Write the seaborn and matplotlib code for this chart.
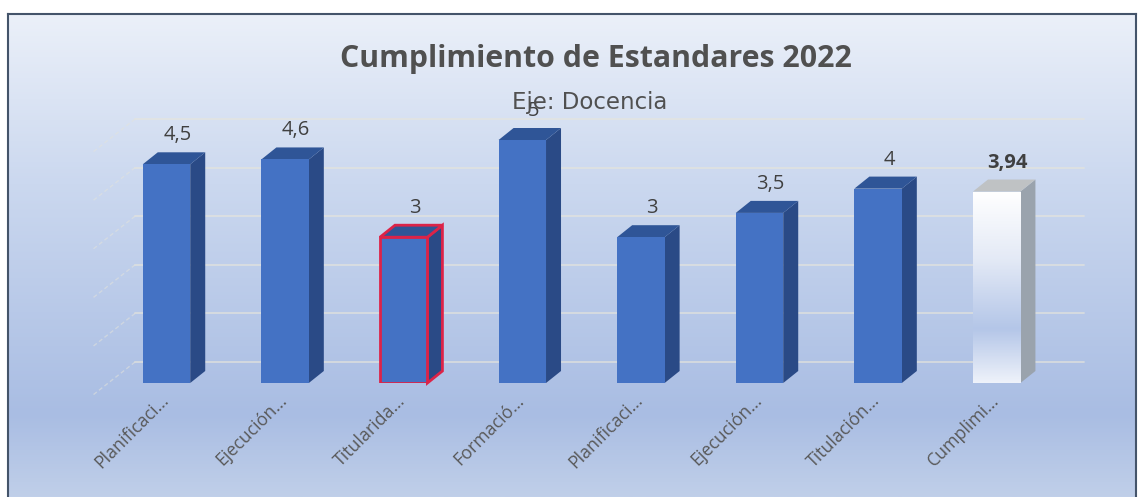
import matplotlib
matplotlib.use("Agg")
import matplotlib.pyplot as plt
from matplotlib.colors import LinearSegmentedColormap
from matplotlib.patches import Polygon
from matplotlib.transforms import ScaledTranslation
import numpy as np
import pandas as pd
import seaborn as sns

categorias = ['Planificaci...', 'Ejecución...', 'Titularida...', 'Formació...',
              'Planificaci... ', 'Ejecución... ', 'Titulación...', 'Cumplimi...']
valores = [4.5, 4.6, 3, 5, 3, 3.5, 4, 3.94]
etiquetas = ['4,5', '4,6', '3', '5', '3', '3,5', '4', '3,94']
niveles = [0, 1, 2, 3, 4, 5]

W, H = 1143, 497
sns.set_theme(style="white")
plt.rcParams['font.family'] = ['Open Sans', 'DejaVu Sans']

fig = plt.figure(figsize=(W / 100, H / 100), dpi=100)
fig.patch.set_facecolor('white')

# fondo con degradado y marco
bg = fig.add_axes([8 / W, 0, (1136 - 8) / W, 1 - 14 / H], zorder=0)
fondo = LinearSegmentedColormap.from_list(
    'fondo', [(0, '#ebf0f9'), (0.35, '#cbd8ef'), (0.83, '#a9bde3'), (1, '#c0cfe9')])
bg.imshow(np.linspace(0, 1, 256).reshape(-1, 1), aspect='auto', cmap=fondo)
bg.set_xticks([])
bg.set_yticks([])
for s in bg.spines.values():
    s.set_color('#44546a')
    s.set_linewidth(1.5)
bg.spines['bottom'].set_visible(False)

# eje principal: 118.6 px por categoria, 48.6 px por unidad
x0 = 107.2
y0 = 383
ax = fig.add_axes([x0 / W, (H - y0) / H, 8 * 118.6 / W, 264 / H], zorder=1)
ax.patch.set_alpha(0)

df = pd.DataFrame({'cat': categorias, 'val': valores})
sns.barplot(data=df, x='cat', y='val', color='#4472c4', saturation=1, width=0.4, ax=ax, zorder=3)
ax.set_xlim(-0.5, 7.5)
ax.set_ylim(0, 264 / 48.6)
ax.set_xlabel('')
ax.set_ylabel('')
ax.set_yticks([])
sns.despine(ax=ax, left=True, bottom=True)

dx = 15 / 118.6
dy = 12 / 48.6

# rejilla de la pared y lineas laterales
fondo_y = 21 / 48.6
for n in niveles:
    ax.plot([-0.265, 7.74], [n + fondo_y, n + fondo_y], color='#e6e5dc', lw=1.3,
            alpha=0.7, zorder=1, clip_on=False)
    ax.plot([-0.265, -0.62], [n + fondo_y, n + fondo_y - 33 / 48.6], color='#e3e3dc', lw=1,
            ls=(0, (3, 2)), alpha=0.55, zorder=1, clip_on=False)

for i, (p, v) in enumerate(zip(ax.patches, valores)):
    xa = p.get_x()
    xb = xa + p.get_width()
    lado = '#2a4a86'
    tapa = '#2f5597'
    borde = 'none'
    if i == 2:
        borde = '#dc2348'
    if i == 7:
        lado = '#9aa3ad'
        tapa = '#bfc2c4'
    lw = 2 if i == 2 else 0
    ax.add_patch(Polygon([(xb, 0), (xb + dx, dy), (xb + dx, v + dy), (xb, v)], closed=True,
                         facecolor=lado, edgecolor=borde, lw=lw, zorder=2.5, clip_on=False))
    ax.add_patch(Polygon([(xa, v), (xa + dx, v + dy), (xb + dx, v + dy), (xb, v)], closed=True,
                         facecolor=tapa, edgecolor=borde, lw=lw, zorder=2.5, clip_on=False))
    p.set_edgecolor(borde)
    p.set_linewidth(lw)
    if i == 7:
        # barra de cumplimiento en degradado blanco
        blanco = LinearSegmentedColormap.from_list(
            'blanco', [(0, '#ffffff'), (0.35, '#e4eaf6'), (0.72, '#b4c6e8'), (1, '#eef2fa')])
        im = ax.imshow(np.linspace(0, 1, 128).reshape(-1, 1), cmap=blanco, aspect='auto',
                       extent=[xa, xb, 0, v], zorder=3.2)
        im.set_clip_path(p)
        ax.set_xlim(-0.5, 7.5)
        ax.set_ylim(0, 264 / 48.6)
    ax.annotate(etiquetas[i], (p.get_x() + p.get_width() / 2, v), xytext=(11, 29),
                textcoords='offset pixels', ha='center', va='center', fontsize=14.5,
                color='#404040', fontweight='bold' if i == 7 else 'normal',
                annotation_clip=False, zorder=6)

ax.set_xticks(range(len(categorias)))
ax.set_xticklabels([c.strip() for c in categorias], rotation=45, ha='right',
                   rotation_mode='anchor', fontsize=12.8, color='#595959')
ax.tick_params(axis='x', length=0, pad=6)
# las etiquetas quedan un poco a la izquierda del centro de la barra
desplazo = ScaledTranslation(-7 / 100, 0, fig.dpi_scale_trans)
for t in ax.get_xticklabels():
    t.set_transform(t.get_transform() + desplazo)

fig.text(596 / W, 1 - 59 / H, 'Cumplimiento de Estandares 2022', ha='center', va='center',
         fontsize=21.8, fontweight='bold', color='#505050', zorder=5)
fig.text(590 / W, 1 - 102 / H, 'Eje: Docencia', ha='center', va='center',
         fontsize=16.5, color='#505050', family='DejaVu Sans', zorder=5)

fig.savefig('out.png', dpi=100)
